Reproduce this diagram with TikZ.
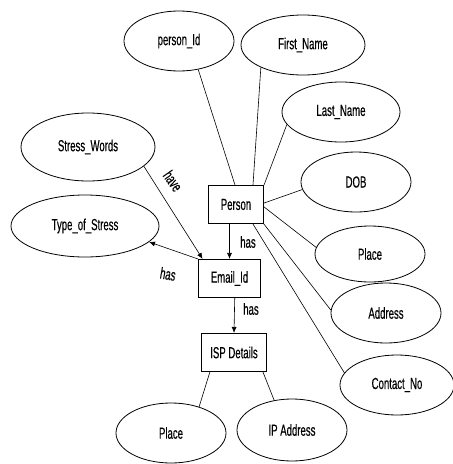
\documentclass[tikz,border=0pt]{standalone}
\usepackage{fontspec}
\setmainfont[FakeStretch=0.6,FakeBold=0.3]{Liberation Sans}
\usetikzlibrary{shapes.geometric,arrows.meta}

\begin{document}
\begin{tikzpicture}[x=1pt, y=-1pt,
        every node/.style={font=\fontsize{16}{18}\selectfont},
        attrib/.style={ellipse, draw, line width=0.8pt, inner sep=0pt, minimum width=110pt, minimum height=60pt},
        entity/.style={rectangle, draw, line width=1.1pt, inner sep=0pt, minimum height=38pt},
        link/.style={line width=0.6pt},
        rel/.style={line width=0.6pt, -{Latex[length=6pt,width=5pt]}}]
    \useasboundingbox (0,0) rectangle (453,464);

    % entities
    \node[entity, minimum width=55pt] (person) at (236,204.5) {Person};
    \node[entity, minimum width=62pt] (email) at (229.5,278.5) {Email\_Id};
    \node[entity, minimum width=65pt] (isp) at (234,352.5) {ISP Details};

    % attributes
    \node[attrib] (pid) at (179,41) {person\_Id};
    \node[attrib, minimum width=124pt] (fname) at (303,45) {First\_Name};
    \node[attrib, minimum width=118pt] (lname) at (341,112) {Last\_Name};
    \node[attrib] (dob) at (356,182) {DOB};
    \node[attrib, minimum height=56pt] (place) at (370,254) {Place};
    \node[attrib] (addr) at (386,313) {Address};
    \node[attrib, minimum width=114pt] (contact) at (397,385) {Contact\_No};
    \node[attrib, minimum width=134pt, minimum height=68pt] (words) at (88,147) {Stress\_Words};
    \node[attrib, minimum width=148pt, minimum height=62pt] (stype) at (85,226) {Type\_of\_Stress};
    \node[attrib] (isplace) at (171,433) {Place};
    \node[attrib, minimum height=62pt] (ip) at (292,430) {IP Address};

    % person attributes
    \draw[link] (pid.304) -- (person.93);
    \draw[link] (fname.208) -- (person.49);
    \draw[link] (lname.193) -- (person.north east);
    \draw[link] (dob.188) -- (person.3);
    \draw[link] (place.173) -- (person.355);
    \draw[link] (addr.177) -- (person.325);
    \draw[link] (contact.167) -- (person.311);

    % isp attributes
    \draw[link] (isp.219) -- (isplace.43);
    \draw[link] (isp.326) -- (ip.121);

    % relations
    \draw[rel] (person.south -| email.north) -- (email.north);
    \draw[rel] (email.285) -- (isp.north);
    \draw[rel] (words.341) -- (email.144);
    \draw[rel] (email.north west) -- (stype.346);

    \node (has1) at (248,242) {has};
    \node (has2) at (251,309) {has};
    \node[rotate=-55, inner sep=1pt] (have) at (173,181) {have};
    \node[rotate=-10] (has3) at (168,274) {has};
\end{tikzpicture}
\end{document}
